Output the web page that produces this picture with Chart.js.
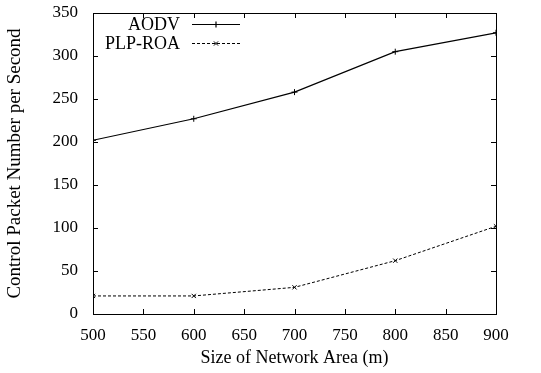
<!DOCTYPE html>
<html>
<head>
<meta charset="UTF-8">
<script src="https://cdn.jsdelivr.net/npm/chart.js"></script>
<style>
  html, body { margin: 0; padding: 0; background: #fff; }
  #wrap { width: 541px; height: 373px; }
</style>
</head>
<body>
<div id="wrap"><canvas id="c" width="541" height="373"></canvas></div>
<script>
const areaSizes = [500, 600, 700, 800, 900];
const aodv = [202, 227, 258, 305, 327];
const plpRoa = [21, 21, 31, 62, 102];
const xTicks = [500, 550, 600, 650, 700, 750, 800, 850, 900];
const yTicks = [0, 50, 100, 150, 200, 250, 300, 350];

const FONT = "'Liberation Serif', 'Times New Roman', serif";

// gnuplot-like box with inward ticks on all sides, and legend in top-left
const frame = {
  id: 'frame',
  afterDatasetsDraw(chart) {
    const ctx = chart.ctx, a = chart.chartArea;
    const xs = chart.scales.x, ys = chart.scales.y;
    ctx.save();
    ctx.strokeStyle = '#000';
    ctx.lineWidth = 1;
    ctx.strokeRect(a.left + 0.5, a.top + 0.5, a.right - a.left, a.bottom - a.top);
    ctx.beginPath();
    xTicks.forEach(v => {
      const px = Math.round(xs.getPixelForValue(v)) + 0.5;
      ctx.moveTo(px, a.bottom); ctx.lineTo(px, a.bottom - 5);
      ctx.moveTo(px, a.top); ctx.lineTo(px, a.top + 5);
    });
    yTicks.forEach(v => {
      const py = Math.round(ys.getPixelForValue(v)) + 0.5;
      ctx.moveTo(a.left, py); ctx.lineTo(a.left + 5, py);
      ctx.moveTo(a.right, py); ctx.lineTo(a.right - 5, py);
    });
    ctx.stroke();

    // legend
    ctx.font = '18px ' + FONT;
    ctx.fillStyle = '#000';
    ctx.textAlign = 'right';
    ctx.textBaseline = 'middle';
    const rows = [{ label: 'AODV', ds: 0, y: 24 }, { label: 'PLP-ROA', ds: 1, y: 43 }];
    rows.forEach(r => {
      const d = chart.data.datasets[r.ds];
      ctx.fillText(r.label, 180, r.y + 1);
      ctx.beginPath();
      ctx.lineWidth = d.borderWidth;
      ctx.setLineDash(d.borderDash || []);
      ctx.moveTo(192, r.y + 0.5); ctx.lineTo(240, r.y + 0.5);
      ctx.stroke();
      ctx.setLineDash([]);
      Chart.helpers.drawPoint(ctx, { pointStyle: d.pointStyle, radius: 3, borderWidth: 1 }, 216, r.y + 0.5);
    });
    ctx.restore();
  }
};

new Chart(document.getElementById('c'), {
  type: 'line',
  data: {
    datasets: [
      {
        label: 'AODV',
        data: areaSizes.map((x, i) => ({ x, y: aodv[i] })),
        borderColor: '#000', borderWidth: 1.2,
        pointStyle: 'cross', pointRadius: 3, pointBorderColor: '#000', pointBorderWidth: 1,
        tension: 0
      },
      {
        label: 'PLP-ROA',
        data: areaSizes.map((x, i) => ({ x, y: plpRoa[i] })),
        borderColor: '#000', borderWidth: 1, borderDash: [3, 2],
        pointStyle: 'crossRot', pointRadius: 3, pointBorderColor: '#000', pointBorderWidth: 1,
        tension: 0
      }
    ]
  },
  options: {
    responsive: false,
    animation: false,
    layout: { padding: { top: 13, right: 45, left: 0, bottom: 0 } },
    plugins: { legend: { display: false }, tooltip: { enabled: false } },
    scales: {
      x: {
        type: 'linear', min: 500, max: 900,
        afterBuildTicks: s => { s.ticks = xTicks.map(v => ({ value: v })); },
        afterFit: s => { s.height = 59; s.paddingLeft = 0; s.paddingRight = 0; },
        grid: { display: false }, border: { display: false },
        ticks: { color: '#000', font: { family: FONT, size: 17 }, padding: 3, maxRotation: 0 },
        title: { display: true, text: 'Size of Network Area (m)', color: '#000', font: { family: FONT, size: 18 }, padding: { top: 2 } }
      },
      y: {
        type: 'linear', min: 0, max: 350,
        afterBuildTicks: s => { s.ticks = yTicks.map(v => ({ value: v })); },
        afterFit: s => { s.width = 93; s.paddingTop = 0; s.paddingBottom = 0; },
        grid: { display: false }, border: { display: false },
        ticks: { color: '#000', font: { family: FONT, size: 17 }, padding: 7 },
        title: { display: true, text: 'Control Packet Number per Second', color: '#000', font: { family: FONT, size: 19 }, padding: { top: 4, bottom: 2 } }
      }
    }
  },
  plugins: [frame]
});
</script>
</body>
</html>
